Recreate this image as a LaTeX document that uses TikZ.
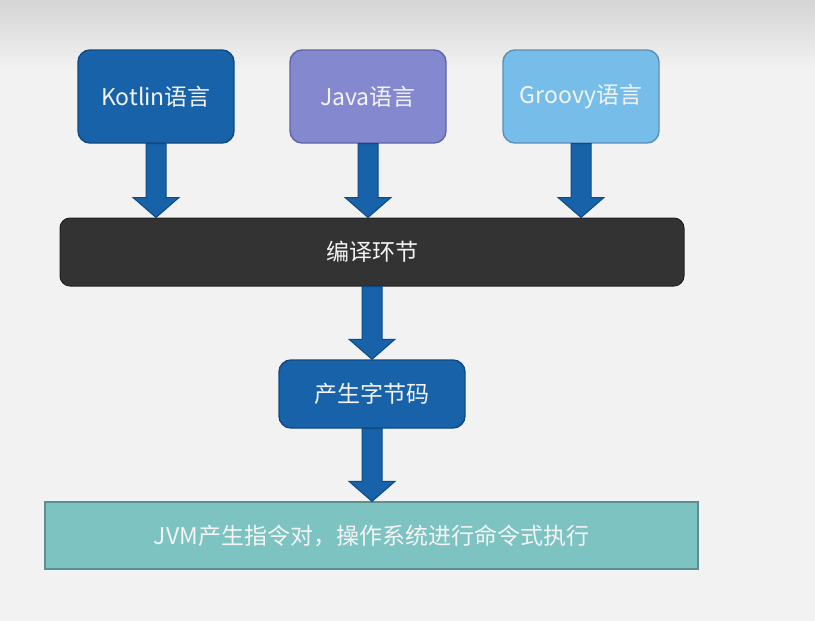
\documentclass[tikz,border=0pt]{standalone}
\usepackage{fontspec}
\setmainfont{Noto Sans CJK SC}
\usetikzlibrary{calc}

\definecolor{bgtop}{HTML}{D4D4D4}
\definecolor{bgmain}{HTML}{F2F2F2}
\definecolor{blueFill}{HTML}{1762A8}
\definecolor{blueLine}{HTML}{0E4A85}
\definecolor{violetFill}{HTML}{8489CF}
\definecolor{violetLine}{HTML}{6064A8}
\definecolor{skyFill}{HTML}{76BDEA}
\definecolor{skyLine}{HTML}{5A8FB8}
\definecolor{darkFill}{HTML}{333333}
\definecolor{darkLine}{HTML}{222222}
\definecolor{tealFill}{HTML}{7DC3C2}
\definecolor{tealLine}{HTML}{5F8E91}
\definecolor{label}{HTML}{F4F4F4}

\tikzset{
  box/.style={rectangle, rounded corners=12pt, line width=1.4pt,
    text=label, font=\fontsize{23}{27}\selectfont, inner sep=0pt},
  barrow/.style={fill=blueFill, draw=blueLine, line width=1pt, line join=miter}
}

% block arrow pointing down from #1 to #2 (same x)
\newcommand\blockarrow[2]{%
  \path[barrow] let \p1=(#1), \p2=(#2) in
    (\x1-10pt,\y1) -- (\x1+10pt,\y1) -- (\x1+10pt,\y2+20pt)
    -- (\x1+23pt,\y2+20pt) -- (\x1,\y2) -- (\x1-23pt,\y2+20pt)
    -- (\x1-10pt,\y2+20pt) -- cycle;}

\begin{document}
\begin{tikzpicture}[x=1pt, y=-1pt]
  % backdrop
  \useasboundingbox (0,0) rectangle (815,621);
  \fill[bgmain] (0,0) rectangle (815,621);
  \shade[top color=bgtop, bottom color=bgmain] (0,0) rectangle (815,70);

  % source languages
  \node[box, fill=blueFill, draw=blueLine, minimum width=156pt, minimum height=93pt]
    (kotlin) at (156,96.5) {Kotlin语言};
  \node[box, fill=violetFill, draw=violetLine, minimum width=156pt, minimum height=93pt]
    (java) at (368,96.5) {Java语言};
  \node[box, fill=skyFill, draw=skyLine, minimum width=156pt, minimum height=93pt]
    (groovy) at (581,96.5) {Groovy语言};

  % compile stage
  \node[box, rounded corners=10pt, fill=darkFill, draw=darkLine, line width=1pt,
    minimum width=624pt, minimum height=68pt] (compile) at (372,252) {编译环节};

  % bytecode
  \node[box, fill=blueFill, draw=blueLine, minimum width=186pt, minimum height=68pt]
    (bytecode) at (372,394) {产生字节码};

  % execution
  \node[box, rounded corners=0pt, fill=tealFill, draw=tealLine, line width=1.2pt,
    minimum width=653pt, minimum height=67pt] (jvm) at (371.5,535.5)
    {JVM产生指令对，操作系统进行命令式执行};

  % connectors
  \blockarrow{kotlin.south}{kotlin.south |- compile.north}
  \blockarrow{java.south}{java.south |- compile.north}
  \blockarrow{groovy.south}{groovy.south |- compile.north}
  \blockarrow{compile.south}{bytecode.north}
  \blockarrow{bytecode.south}{jvm.north -| bytecode.south}
\end{tikzpicture}
\end{document}
